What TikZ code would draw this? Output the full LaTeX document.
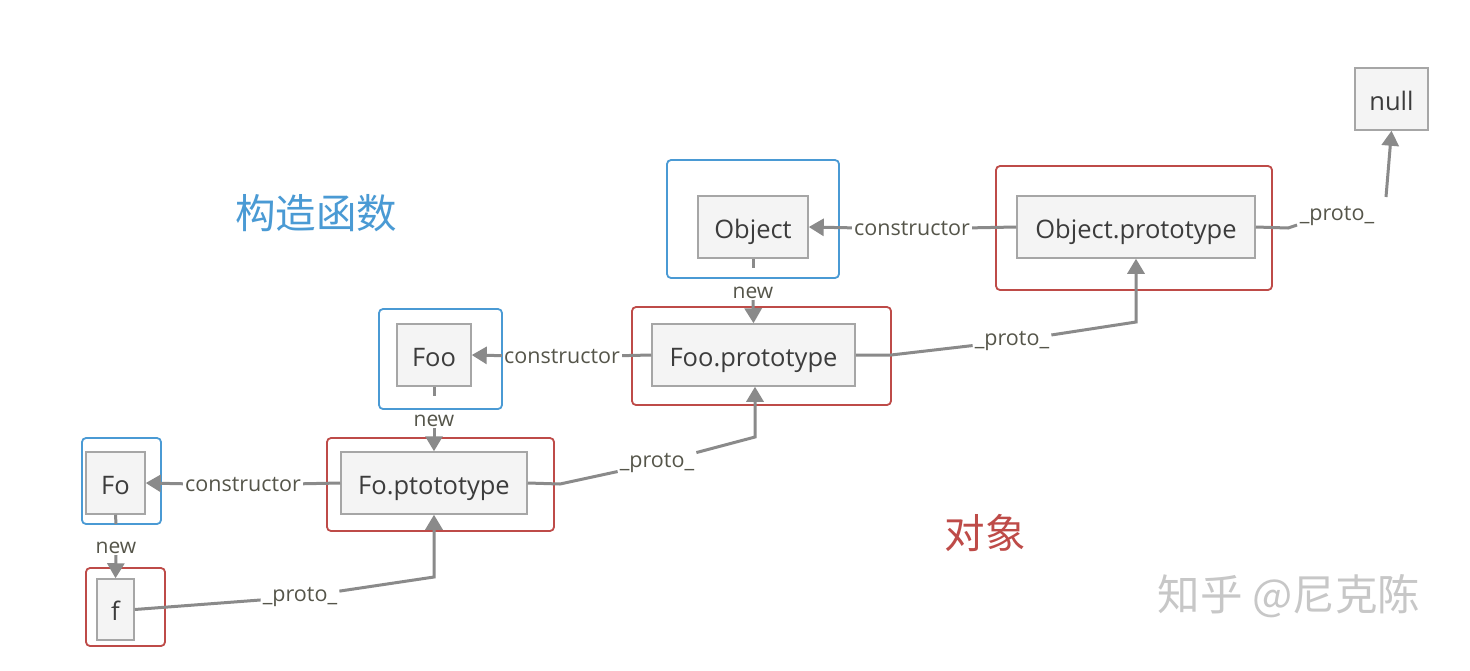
\documentclass[tikz,border=0pt]{standalone}
\usepackage{fontspec}
\setmainfont{Open Sans}
\newfontfamily\cjk{Noto Sans CJK SC}
\usetikzlibrary{arrows.meta}
\definecolor{cblue}{HTML}{4A9AD4}
\definecolor{cred}{HTML}{BE4B48}
\definecolor{innerfill}{HTML}{F4F4F4}
\definecolor{innerdraw}{HTML}{A6A6A6}
\definecolor{conncol}{HTML}{8A8A8A}
\definecolor{lblcol}{HTML}{55554A}
\definecolor{txtcol}{HTML}{3C3C3C}
\begin{document}
\begin{tikzpicture}[x=1pt,y=-1pt,
  inner/.style={draw=innerdraw,fill=innerfill,line width=1.5pt,minimum height=62pt,inner sep=0pt,
     text height=25pt,text depth=3pt,
     font=\fontsize{25.5}{30}\selectfont,text=txtcol},
  blueframe/.style={draw=cblue,line width=1.8pt,rounded corners=4pt,inner sep=0pt},
  redframe/.style={draw=cred,line width=1.8pt,rounded corners=4pt,inner sep=0pt},
  lbl/.style={font=\fontsize{21.5}{24}\selectfont,text=lblcol,inner sep=2pt},
  newlbl/.style={font=\fontsize{21}{24}\selectfont,text=lblcol,inner sep=1pt},
  conn/.style={draw=conncol,line width=3pt},
  arr/.style={conn,-{Triangle[length=15pt,width=17pt]}},
]
\useasboundingbox (0,0) rectangle (1470,670);
\fill[white] (0,0) rectangle (1470,670);

% frames
\node[blueframe,minimum width=172pt,minimum height=118pt] (objF) at (753,219) {};
\node[redframe,minimum width=276pt,minimum height=124pt] (opF) at (1134,228) {};
\node[blueframe,minimum width=123pt,minimum height=100pt] (fooF) at (440.5,359) {};
\node[redframe,minimum width=259pt,minimum height=98pt] (fpF) at (761.5,356) {};
\node[blueframe,minimum width=79pt,minimum height=86pt] (foF) at (121.5,481) {};
\node[redframe,minimum width=227pt,minimum height=93pt] (fopF) at (440.5,484.5) {};
\node[redframe,minimum width=79pt,minimum height=78pt] (fF) at (125.5,607) {};

% inner boxes
\node[inner,minimum width=110pt] (obj) at (753,227) {Object};
\node[inner,minimum width=238pt] (op) at (1136,227) {Object.prototype};
\node[inner,minimum width=73pt] (nul) at (1391.5,99) {null};
\node[inner,minimum width=74pt] (foo) at (434,355) {Foo};
\node[inner,minimum width=203pt] (fp) at (753.5,355) {Foo.prototype};
\node[inner,minimum width=59pt] (fo) at (115.5,483) {Fo};
\node[inner,minimum width=186pt] (fop) at (434,483) {Fo.ptototype};
\node[inner,minimum width=37pt,minimum height=61pt] (f) at (115.5,609.5) {f};

% headings
\node[text=cblue,font=\cjk\fontsize{40.5}{44}\selectfont] (h1) at (316,213) {构造函数};
\node[text=cred,font=\cjk\fontsize{40.5}{44}\selectfont] (h2) at (985,533) {对象};
\node[text=black!22,font=\cjk\fontsize{42.5}{46}\selectfont] (wm) at (1289,596) {知乎 @尼克陈};

% constructor links
\node[lbl] (c1) at (912,229) {constructor};
\draw[conn] (op.west) -- (c1);
\draw[arr] (c1) -- (obj.east);
\node[lbl] (c2) at (562,357) {constructor};
\draw[conn] (fp.west) -- (c2);
\draw[arr] (c2) -- (foo.east);
\node[lbl] (c3) at (243,485) {constructor};
\draw[conn] (fop.west) -- (c3);
\draw[arr] (c3) -- (fo.east);

% new links
\node[newlbl] (n1) at (753,293) {new};
\coordinate (t1) at (753,268);
\draw[conn] (obj.south) -- (t1);
\draw[arr] (n1.south) -- (fp.north);
\node[newlbl] (n2) at (434,421) {new};
\coordinate (t2) at (434,396);
\draw[conn] (foo.south) -- (t2);
\draw[arr] (n2.south) -- (fop.north);
\node[newlbl] (n3) at (116,548) {new};
\coordinate (t3) at (116,524);
\draw[conn] (f.north |- fo.south) -- (t3);
\draw[arr] (n3.south) -- (f.north);

% proto links
\node[lbl] (p1) at (1012,341) {\_proto\_};
\coordinate (k1a) at (891,355);
\coordinate (k1b) at (1136,322);
\draw[conn] (fp.east) -- (k1a) -- (p1);
\draw[arr] (p1) -- (k1b) -- (op.south);

\node[lbl] (p2) at (1337,216) {\_proto\_};
\coordinate (k2a) at (1288,228);
\coordinate (k2c) at (1297,225);
\coordinate (k2b) at (1386,197);
\draw[conn] (op.east) -- (k2a) -- (k2c);
\draw[arr] (k2b) -- (nul.south);

\node[lbl] (p3) at (657,463) {\_proto\_};
\coordinate (k3a) at (560,484);
\coordinate (k3b) at (755,437);
\draw[conn] (fop.east) -- (k3a) -- (p3);
\draw[arr] (p3) -- (k3b) -- (fp.south -| k3b);

\node[lbl] (p4) at (300,597) {\_proto\_};
\coordinate (k4b) at (434,577);
\draw[conn] (f.east) -- (p4);
\draw[arr] (p4) -- (k4b) -- (fop.south);
\end{tikzpicture}
\end{document}
